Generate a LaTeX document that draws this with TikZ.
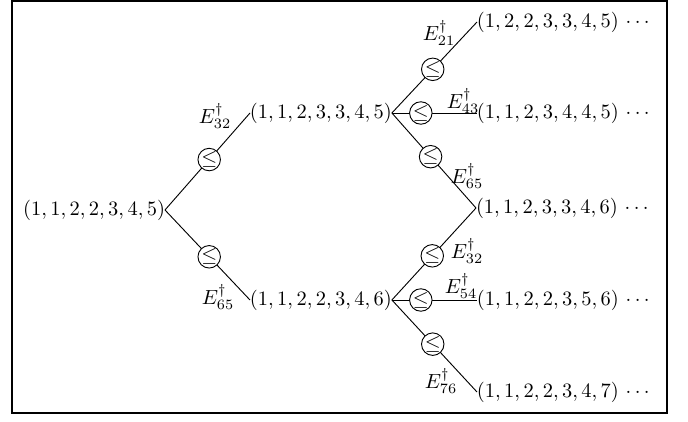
\documentclass[tikz,border=0pt]{standalone}
\usepackage{amsmath}
\begin{document}
\begin{tikzpicture}[x=0.4894pt,y=-0.4894pt,
  tup/.style={inner sep=0pt,outer sep=0pt},
  leq/.style={circle,draw,fill=white,minimum size=11pt,inner sep=0pt},
  lab/.style={inner sep=0pt},
  edge/.style={line width=0.45pt}]
\useasboundingbox (0,0) rectangle (688,422);
\draw[line width=0.8pt] (12,1) rectangle (667,413);
% tuples
\node[tup,anchor=east] (r) at (165,210) {$(1,1,2,2,3,4,5)$};
\node[tup,anchor=west] (a) at (250,113) {$(1,1,2,3,3,4,5)$};
\node[tup,anchor=west] (b) at (250,300) {$(1,1,2,2,3,4,6)$};
\node[tup,anchor=west] (l1) at (477,22) {$(1,2,2,3,3,4,5)$\ $\cdots$};
\node[tup,anchor=west] (l2) at (477,113) {$(1,1,2,3,4,4,5)$\ $\cdots$};
\node[tup,anchor=west] (l3) at (476,208) {$(1,1,2,3,3,4,6)$\ $\cdots$};
\node[tup,anchor=west] (l4) at (477,300) {$(1,1,2,2,3,5,6)\,\cdots$};
\node[tup,anchor=west] (l5) at (477,392) {$(1,1,2,2,3,4,7)$\ $\cdots$};
% edges
\draw[edge] (r.east) -- node[leq,pos=0.52] (c1) {$\leq$} (a.west);
\draw[edge] (r.east) -- node[leq,pos=0.52] (c2) {$\leq$} (b.west);
\draw[edge] (a.east) -- node[leq,pos=0.48] (c3) {$\leq$} (l1.west);
\draw[edge] (a.east) -- node[leq,pos=0.34] (c4) {$\leq$} (l2.west);
\draw[edge] (a.east) -- node[leq,pos=0.46] (c5) {$\leq$} (l3.west);
\draw[edge] (b.east) -- node[leq,pos=0.48] (c6) {$\leq$} (l3.west);
\draw[edge] (b.east) -- node[leq,pos=0.34] (c7) {$\leq$} (l4.west);
\draw[edge] (b.east) -- node[leq,pos=0.48] (c8) {$\leq$} (l5.west);
% labels
\node[lab] (e1) at (215,116) {$E^\dagger_{32}$};
\node[lab] (e2) at (218,297) {$E^\dagger_{65}$};
\node[lab] (e3) at (439,33) {$E^\dagger_{21}$};
\node[lab] (e4) at (463,101) {$E^\dagger_{43}$};
\node[lab] (e5) at (467,176) {$E^\dagger_{65}$};
\node[lab] (e6) at (467,251) {$E^\dagger_{32}$};
\node[lab] (e7) at (461,286) {$E^\dagger_{54}$};
\node[lab] (e8) at (441,381) {$E^\dagger_{76}$};
\end{tikzpicture}
\end{document}
